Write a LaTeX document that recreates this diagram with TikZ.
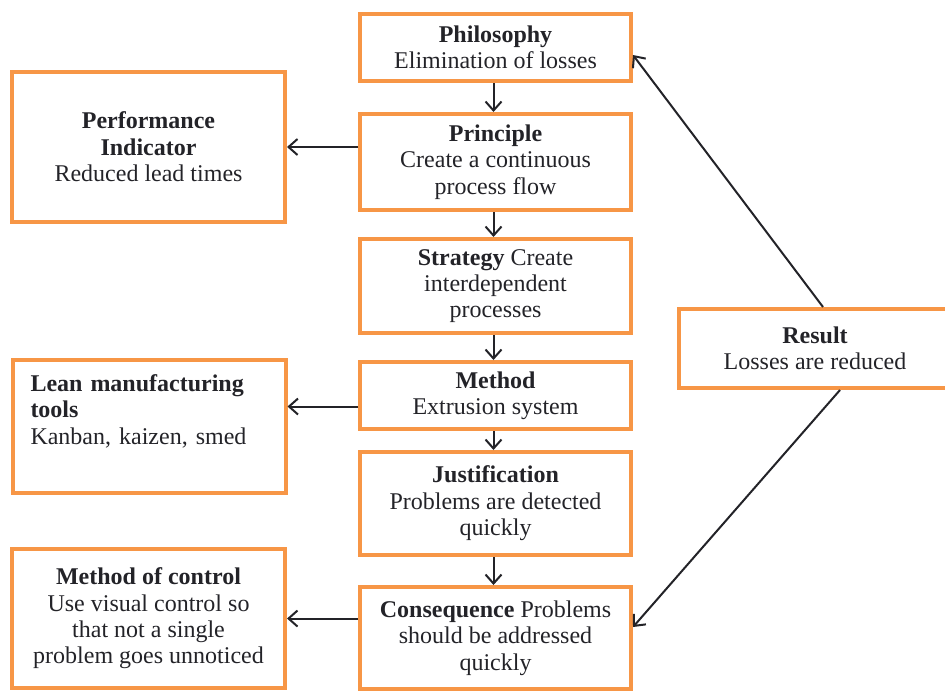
\documentclass[tikz,border=0pt]{standalone}
\usepackage{fontspec}
\setmainfont{Liberation Serif}
\usetikzlibrary{arrows.meta,positioning,calc}
\definecolor{myorange}{RGB}{247,150,70}
\definecolor{mydark}{RGB}{35,35,40}

\begin{document}
\begin{tikzpicture}[x=0.5pt, y=-0.5pt,
  font=\fontsize{12}{13.2}\selectfont\frenchspacing, text=mydark,
  box/.style={draw=myorange, line width=2pt, align=center, inner sep=2pt,
              minimum width=136.5pt},
  arr/.style={draw=mydark, line width=1pt,
              -{Straight Barb[length=4.5pt,width=8pt]}}]
  \useasboundingbox (0,0) rectangle (945,692);

  % middle column
  \node[box, minimum width=135.5pt, minimum height=33.5pt](phil) at (495.5,47.5)
    {\textbf{Philosophy}\\Elimination of losses};
  \node[box, minimum width=135.5pt, minimum height=48pt](prin) at (495.5,162)
    {\textbf{Principle}\\Create a continuous\\process flow};
  \node[box, minimum width=135.5pt, minimum height=47pt](strat) at (495.5,286)
    {\textbf{Strategy} Create\\interdependent\\processes};
  \node[box, minimum width=135.5pt, minimum height=33.5pt](meth) at (495.5,395.5)
    {\textbf{Method}\\Extrusion system};
  \node[box, minimum width=135.5pt, minimum height=51.5pt](just) at (495.5,503.5)
    {\textbf{Justification}\\Problems are detected\\quickly};
  \node[box, minimum width=135.5pt, minimum height=51pt](cons) at (495.5,638)
    {\textbf{Consequence} Problems\\should be addressed\\quickly};

  % left column
  \node[box, minimum height=75pt](perf) at (148.5,147)
    {\textbf{Performance}\\\textbf{Indicator}\\Reduced lead times};
  \node[box, minimum height=66.5pt, align=left, text width=118.5pt,
        inner xsep=9pt](lean) at (149,426.5)
    {\textbf{Lean manufacturing}\\\textbf{tools}\\Kanban, kaizen, smed\\\strut};
  \node[box, minimum height=69.5pt](moc) at (148.5,618.5)
    {\textbf{Method of control}\\Use visual control so\\that not a single\\problem goes unnoticed};

  % right
  \node[box, minimum width=136pt, minimum height=39.5pt](res) at (815,348.5)
    {\textbf{Result}\\Losses are reduced};

  \draw[arr] ([xshift=-1pt]phil.south) -- ([xshift=-1pt]prin.north);
  \draw[arr] ([xshift=-1pt]prin.south) -- ([xshift=-1pt]strat.north);
  \draw[arr] ([xshift=-1pt]strat.south) -- ([xshift=-1pt]meth.north);
  \draw[arr] ([xshift=-1pt]meth.south) -- ([xshift=-1pt]just.north);
  \draw[arr] ([xshift=-1pt]just.south) -- ([xshift=-1pt]cons.north);

  \draw[arr] (prin.west |- perf.east) -- (perf.east);
  \draw[arr] ([yshift=-5.5pt]meth.west) -- ([yshift=-5.5pt]meth.west -| lean.east);
  \draw[arr] (cons.west |- moc.east) -- (moc.east);

  \draw[arr] ([xshift=4pt]res.north) -- ([yshift=-3.75pt]phil.east);
  \draw[arr] ([xshift=12.5pt]res.south) -- ([yshift=5.5pt]cons.east);
\end{tikzpicture}
\end{document}
